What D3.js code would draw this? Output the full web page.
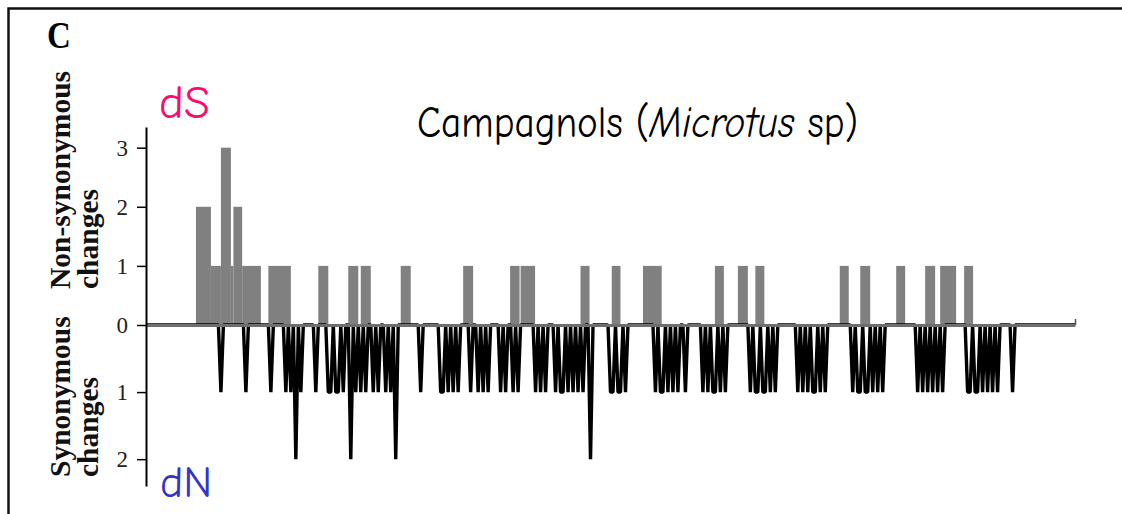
<!DOCTYPE html>
<html>
<head>
<meta charset="utf-8">
<script src="https://cdn.jsdelivr.net/npm/d3@7"></script>
<style>
  html, body { margin: 0; padding: 0; background: #fff; }
  svg { display: block; }
</style>
</head>
<body>
<svg id="chart" width="1122" height="514"></svg>
<script>
// Number of codons along the sequence
const codonCount = 372;

// Non-synonymous changes, as runs of codons: [startCodon, endCodon, changes]
const nonSynRuns = [
  [20, 26, 2], [26, 30, 1], [30, 34, 3], [34, 35, 1], [35, 38.5, 2], [38.5, 46, 1],
  [49, 58, 1], [69, 73, 1], [81, 85, 1], [86, 90, 1], [102, 106, 1], [127, 131, 1],
  [145.8, 149.6, 1], [150, 155.8, 1], [174, 177.6, 1], [186.5, 190, 1], [199, 206.5, 1],
  [227.8, 231.4, 1], [237, 241, 1], [244, 247.6, 1], [277.8, 281.4, 1], [286, 290, 1],
  [300.4, 304, 1], [312, 316, 1], [318, 324.4, 1], [327.6, 331.2, 1]
];

// Synonymous changes, per codon: [codon, changes]
const synSites = [
  [30, 1], [40, 1], [50, 1],
  [56, 1], [58, 1], [60, 2], [62, 1], [68, 1],
  [73, 1], [74, 1], [76, 1], [77, 1], [79, 1], [82, 2], [84, 1], [86, 1], [88, 1],
  [91, 1], [93, 1], [96, 1], [98, 1], [100, 2], [110, 1],
  [118, 1], [119, 1], [121, 1], [123, 1], [125, 1], [130, 1], [133, 1], [135, 1], [137, 1],
  [142, 1], [144, 1], [147, 1], [149, 1], [156, 1], [158, 1], [160, 1],
  [164, 1], [166, 1], [167, 1], [169, 1], [171, 1], [173, 1], [175, 1], [178, 2],
  [186, 1], [187, 1], [189, 1], [190, 1], [192, 1],
  [204, 1], [206, 1], [207, 1], [209, 1], [211, 1], [213, 1], [216, 1],
  [223, 1], [225, 1], [227, 1], [228, 1], [230, 1], [232, 1],
  [242, 1], [244, 1], [245, 1], [247, 1], [248, 1], [250, 1], [252, 1],
  [261, 1], [263, 1], [265, 1], [267, 1], [268, 1], [270, 1], [272, 1],
  [283, 1], [285, 1], [286, 1], [288, 1], [289, 1], [291, 1], [293, 1], [295, 1],
  [309, 1], [311, 1], [313, 1], [315, 1], [317, 1], [319, 1],
  [329, 1], [330, 1], [332, 1], [333, 1], [335, 1], [337, 1], [339, 1], [341, 1],
  [347, 1]
];

// Axis tick values
const nonSynTicks = [0, 1, 2, 3];
const synTicks = [1, 2];

// Text
const panelLetter = "C";
const titleParts = [
  { text: "Campagnols (", italic: false },
  { text: "Microtus", italic: true },
  { text: " sp)", italic: false }
];
const upperLabel = ["Non-synonymous", "changes"];
const lowerLabel = ["Synonymous", "changes"];
const upperTag = "dS";
const lowerTag = "dN";

// ---------------------------------------------------------------
const svg = d3.select("#chart");
const serif = "'Liberation Serif', 'Times New Roman', serif";
const comic = "'Comic Sans MS', 'Comic Neue', 'Open Sans', sans-serif";

// frame (top and left edges)
svg.append("path")
  .attr("d", "M8.5,514 V8.5 H1122")
  .attr("fill", "none").attr("stroke", "#111").attr("stroke-width", 2.5);

const x = d3.scaleLinear().domain([0, codonCount]).range([146, 1075]);
const yUp = d3.scaleLinear().domain([0, 3.35]).range([325, 127]);
const yDown = d3.scaleLinear().domain([0, 2.4]).range([325, 486]);

// non-synonymous bars above the axis
svg.append("g").selectAll("rect")
  .data(nonSynRuns)
  .join("rect")
  .attr("x", d => x(d[0]))
  .attr("width", d => x(d[1]) - x(d[0]))
  .attr("y", d => yUp(d[2]))
  .attr("height", d => yUp(0) - yUp(d[2]))
  .attr("fill", "#808080");

// synonymous changes per codon, drawn downward as a line
const synSeries = d3.range(codonCount + 1).map(i => ({ codon: i, value: 0 }));
synSites.forEach(([c, v]) => { synSeries[c].value = v; });
svg.append("path")
  .datum(synSeries)
  .attr("fill", "none")
  .attr("stroke", "#000")
  .attr("stroke-width", 3.4)
  .attr("stroke-linejoin", "bevel")
  .attr("d", d3.line().x(d => x(d.codon)).y(d => yDown(d.value)));

// horizontal axis
const xAxis = svg.append("g")
  .attr("transform", `translate(0,${yUp(0)})`)
  .call(d3.axisTop(x).tickValues([codonCount]).tickSize(6).tickSizeOuter(0).tickFormat(""));
xAxis.select(".domain").attr("stroke", "#6e6e6e").attr("stroke-width", 3);
xAxis.selectAll(".tick line").attr("stroke", "#555").attr("stroke-width", 1.5);

// vertical axes
function styleAxis(g) {
  g.select(".domain").attr("stroke", "#000").attr("stroke-width", 2);
  g.selectAll(".tick line").attr("stroke", "#000").attr("stroke-width", 1.5);
  g.selectAll(".tick text").attr("font-family", serif).attr("font-size", 23).attr("fill", "#222");
}
svg.append("g")
  .attr("transform", `translate(${x(0)},0)`)
  .call(d3.axisLeft(yUp).tickValues(nonSynTicks).tickSize(9).tickSizeOuter(0).tickPadding(9).tickFormat(d3.format("d")))
  .call(styleAxis);
svg.append("g")
  .attr("transform", `translate(${x(0)},0)`)
  .call(d3.axisLeft(yDown).tickValues(synTicks).tickSize(9).tickSizeOuter(0).tickPadding(9).tickFormat(d3.format("d")))
  .call(styleAxis);

// panel letter
svg.append("text")
  .attr("transform", "translate(47,48) scale(1,1.15)")
  .attr("font-family", serif).attr("font-weight", "bold").attr("font-size", 33)
  .text(panelLetter);

// rotated axis titles
function axisTitle(lines, bottom) {
  lines.forEach((t, i) => {
    svg.append("text")
      .attr("transform", `translate(${70 + i * 28},${bottom}) rotate(-90)`)
      .attr("font-family", serif).attr("font-weight", "bold").attr("font-size", 29.5)
      .attr("fill", "#111")
      .text(t);
  });
}
axisTitle(upperLabel, 289);
axisTitle(lowerLabel, 477);

// dS / dN tags
svg.append("text")
  .attr("x", 159).attr("y", 118)
  .attr("font-family", comic).attr("font-size", 47).attr("fill", "#ff0a6a")
  .text(upperTag);
svg.append("text")
  .attr("x", 160).attr("y", 497)
  .attr("font-family", comic).attr("font-size", 44).attr("fill", "#3434c8")
  .text(lowerTag);

// chart title
const title = svg.append("text")
  .attr("transform", "translate(417,137) scale(1,1.15)")
  .attr("font-family", comic).attr("font-size", 32).attr("fill", "#000");
title.selectAll("tspan")
  .data(titleParts)
  .join("tspan")
  .attr("font-style", d => d.italic ? "italic" : "normal")
  .text(d => d.text);
const w = title.node().getComputedTextLength();
title.attr("font-size", 32 * 441 / w);
</script>
</body>
</html>
